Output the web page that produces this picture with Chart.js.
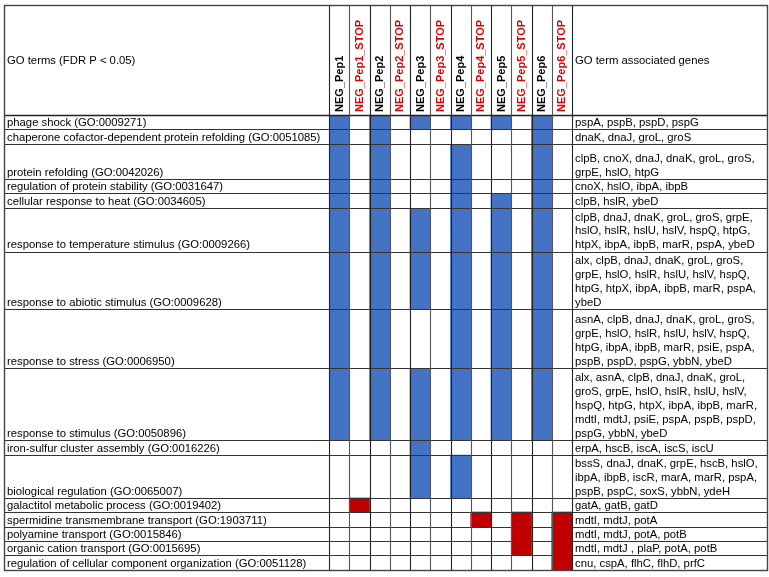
<!DOCTYPE html>
<html>
<head>
<meta charset="utf-8">
<script src="https://cdn.jsdelivr.net/npm/chart.js@4.4.1/dist/chart.umd.min.js"></script>
<style>
  html, body { margin: 0; padding: 0; background: #ffffff; }
  #wrap { width: 769px; height: 577px; }
</style>
</head>
<body>
<div id="wrap"><canvas id="c" width="769" height="577"></canvas></div>
<script>
// ---------------- DATA ----------------
const samples = [
  "NEG_Pep1", "NEG_Pep1_STOP", "NEG_Pep2", "NEG_Pep2_STOP",
  "NEG_Pep3", "NEG_Pep3_STOP", "NEG_Pep4", "NEG_Pep4_STOP",
  "NEG_Pep5", "NEG_Pep5_STOP", "NEG_Pep6", "NEG_Pep6_STOP"
];

const goTerms = [
  "phage shock (GO:0009271)",
  "chaperone cofactor-dependent protein refolding (GO:0051085)",
  "protein refolding (GO:0042026)",
  "regulation of protein stability (GO:0031647)",
  "cellular response to heat (GO:0034605)",
  "response to temperature stimulus (GO:0009266)",
  "response to abiotic stimulus (GO:0009628)",
  "response to stress (GO:0006950)",
  "response to stimulus (GO:0050896)",
  "iron-sulfur cluster assembly (GO:0016226)",
  "biological regulation (GO:0065007)",
  "galactitol metabolic process (GO:0019402)",
  "spermidine transmembrane transport (GO:1903711)",
  "polyamine transport (GO:0015846)",
  "organic cation transport (GO:0015695)",
  "regulation of cellular component organization (GO:0051128)"
];

// 1 = GO term enriched (FDR P < 0.05) for that sample
const enriched = [
  [1,0,1,0,1,0,1,0,1,0,1,0],
  [1,0,1,0,0,0,0,0,0,0,1,0],
  [1,0,1,0,0,0,1,0,0,0,1,0],
  [1,0,1,0,0,0,1,0,0,0,1,0],
  [1,0,1,0,0,0,1,0,1,0,1,0],
  [1,0,1,0,1,0,1,0,1,0,1,0],
  [1,0,1,0,1,0,1,0,1,0,1,0],
  [1,0,1,0,0,0,1,0,1,0,1,0],
  [1,0,1,0,1,0,1,0,1,0,1,0],
  [0,0,0,0,1,0,0,0,0,0,0,0],
  [0,0,0,0,1,0,1,0,0,0,0,0],
  [0,1,0,0,0,0,0,0,0,0,0,0],
  [0,0,0,0,0,0,0,1,0,1,0,1],
  [0,0,0,0,0,0,0,0,0,1,0,1],
  [0,0,0,0,0,0,0,0,0,1,0,1],
  [0,0,0,0,0,0,0,0,0,0,0,1]
];

// associated genes (as wrapped in the table)
const genes = [
  ["pspA, pspB, pspD, pspG"],
  ["dnaK, dnaJ, groL, groS"],
  ["clpB, cnoX, dnaJ, dnaK, groL, groS,", "grpE, hslO, htpG"],
  ["cnoX, hslO, ibpA, ibpB"],
  ["clpB, hslR, ybeD"],
  ["clpB, dnaJ, dnaK, groL, groS, grpE,", "hslO, hslR, hslU, hslV, hspQ, htpG,", "htpX, ibpA, ibpB, marR, pspA, ybeD"],
  ["alx, clpB, dnaJ, dnaK, groL, groS,", "grpE, hslO, hslR, hslU, hslV, hspQ,", "htpG, htpX, ibpA, ibpB, marR, pspA,", "ybeD"],
  ["asnA, clpB, dnaJ, dnaK, groL, groS,", "grpE, hslO, hslR, hslU, hslV, hspQ,", "htpG, ibpA, ibpB, marR, psiE, pspA,", "pspB, pspD, pspG, ybbN, ybeD"],
  ["alx, asnA, clpB, dnaJ, dnaK, groL,", "groS, grpE, hslO, hslR, hslU, hslV,", "hspQ, htpG, htpX, ibpA, ibpB, marR,", "mdtI, mdtJ, psiE, pspA, pspB, pspD,", "pspG, ybbN, ybeD"],
  ["erpA, hscB, iscA, iscS, iscU"],
  ["bssS, dnaJ, dnaK, grpE, hscB, hslO,", "ibpA, ibpB, iscR, marA, marR, pspA,", "pspB, pspC, soxS, ybbN, ydeH"],
  ["gatA, gatB, gatD"],
  ["mdtI, mdtJ, potA"],
  ["mdtI, mdtJ, potA, potB"],
  ["mdtI, mdtJ , plaP, potA, potB"],
  ["cnu, cspA, flhC, flhD, prfC"]
];

const headerLeft = "GO terms (FDR P < 0.05)";
const headerRight = "GO term associated genes";

// ---------------- LAYOUT / STYLE ----------------
const rowHeights = [14.3, 15, 34.7, 14.3, 15, 43.4, 57.6, 59, 71.7, 15, 43, 14, 15, 14, 14, 15];
const BLUE = "#4472C4", RED = "#C00000", HEAD_RED = "#E00000";
const FONT = "'Liberation Sans', Arial, sans-serif";
const TABLE = { left: 4, top: 5, right: 767, headerBottom: 115, labelRight: 329, genesLeft: 572 };

const rowStarts = [];
let acc = 0;
rowHeights.forEach(h => { rowStarts.push(acc); acc += h; });
const total = acc;

const isStop = s => s.endsWith("_STOP");
const datasets = goTerms.map((term, i) => ({
  label: term,
  data: samples.map((s, j) => enriched[i][j] ? [rowStarts[i], rowStarts[i] + rowHeights[i]] : null),
  backgroundColor: samples.map(s => isStop(s) ? RED : BLUE),
  borderWidth: 0,
  grouped: false,
  barPercentage: 1,
  categoryPercentage: 1
}));

const tablePlugin = {
  id: "tablePlugin",
  beforeDraw(chart) {
    const ctx = chart.ctx;
    ctx.save();
    ctx.fillStyle = "#ffffff";
    ctx.fillRect(0, 0, chart.width, chart.height);
    ctx.restore();
  },
  afterDatasetsDraw(chart) {
    const ctx = chart.ctx;
    const ys = chart.scales.y, xs = chart.scales.x;
    const area = chart.chartArea;
    const colW = (area.right - area.left) / samples.length;
    const bottom = ys.getPixelForValue(total);
    ctx.save();

    const hLine = (y, color, w) => {
      ctx.strokeStyle = color; ctx.lineWidth = w;
      ctx.beginPath(); ctx.moveTo(TABLE.left, y); ctx.lineTo(TABLE.right, y); ctx.stroke();
    };
    const vLine = (x, y0, y1, color, w) => {
      ctx.strokeStyle = color; ctx.lineWidth = w;
      ctx.beginPath(); ctx.moveTo(x, y0); ctx.lineTo(x, y1); ctx.stroke();
    };
    rowStarts.forEach((s, i) => {
      if (i === 0) return;
      hLine(Math.round(ys.getPixelForValue(s)) + 0.5, "#333", 1.2);
    });
    hLine(Math.round(ys.getPixelForValue(0)) + 0.5, "#222", 1.3);

    for (let k = 0; k <= samples.length; k++) {
      const x = Math.round(area.left + k * colW) + 0.5;
      vLine(x, TABLE.top, bottom, k % 2 === 0 ? "#222" : "#555", 1.1);
    }
    ctx.strokeStyle = "#444"; ctx.lineWidth = 1.4;
    ctx.strokeRect(TABLE.left + 0.5, TABLE.top + 0.5, TABLE.right - TABLE.left, bottom - TABLE.top);

    const fs = 11.3;
    ctx.fillStyle = "#000";
    ctx.font = fs + "px " + FONT;
    ctx.textBaseline = "middle";
    ctx.textAlign = "left";
    const headMid = (TABLE.top + TABLE.headerBottom) / 2 + 1;
    ctx.fillText(headerLeft, TABLE.left + 3, headMid);
    ctx.fillText(headerRight, TABLE.genesLeft + 3, headMid);

    ctx.font = "bold 11px " + FONT;
    samples.forEach((s, j) => {
      const cx = xs.getPixelForValue(j);
      ctx.save();
      ctx.translate(cx + 0.5, TABLE.headerBottom - 3);
      ctx.rotate(-Math.PI / 2);
      ctx.fillStyle = isStop(s) ? HEAD_RED : "#000";
      ctx.textAlign = "left";
      ctx.textBaseline = "middle";
      ctx.fillText(s, 0, 0);
      ctx.restore();
    });

    ctx.font = fs + "px " + FONT;
    ctx.fillStyle = "#000";
    ctx.textBaseline = "middle";
    const lineH = 13.9;
    goTerms.forEach((t, i) => {
      const yb = ys.getPixelForValue(rowStarts[i] + rowHeights[i]);
      ctx.fillText(t, TABLE.left + 3, yb - 6.5);
      const lines = genes[i];
      lines.forEach((ln, k) => {
        ctx.fillText(ln, TABLE.genesLeft + 3, yb - 6.5 - (lines.length - 1 - k) * lineH);
      });
    });
    ctx.restore();
  }
};

new Chart(document.getElementById("c"), {
  type: "bar",
  data: { labels: samples, datasets },
  options: {
    responsive: false,
    devicePixelRatio: 1,
    animation: false,
    layout: {
      padding: {
        left: TABLE.labelRight,
        right: 769 - TABLE.genesLeft,
        top: TABLE.headerBottom,
        bottom: 577 - 570
      }
    },
    plugins: { legend: { display: false }, tooltip: { enabled: false }, title: { display: false } },
    scales: {
      x: { type: "category", display: false, offset: true, grid: { display: false } },
      y: { type: "linear", display: false, reverse: true, min: 0, max: total, grid: { display: false } }
    }
  },
  plugins: [tablePlugin]
});
</script>
</body>
</html>
